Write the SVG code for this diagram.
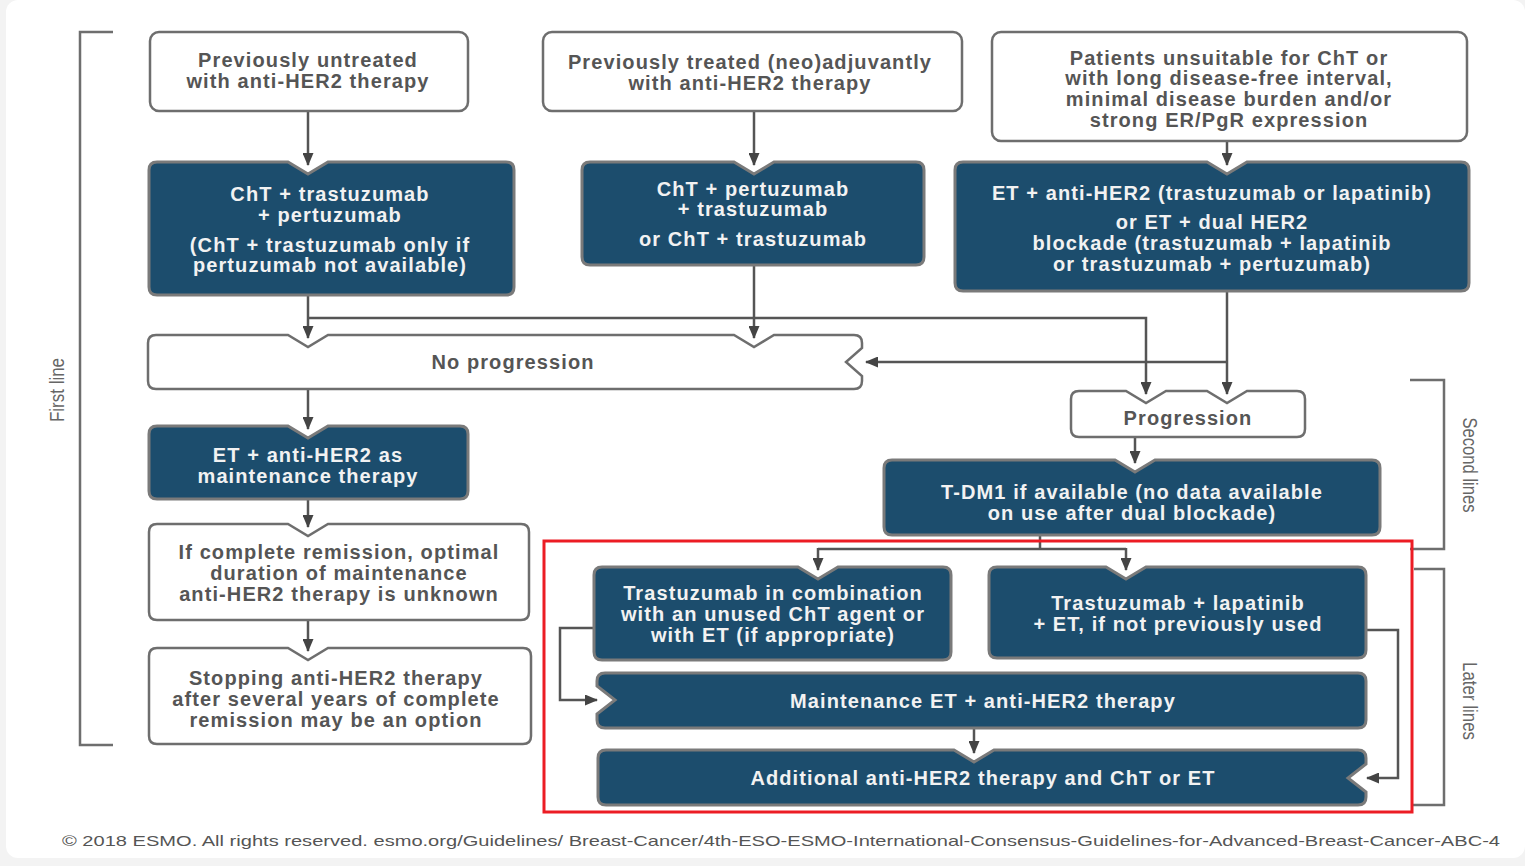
<svg xmlns="http://www.w3.org/2000/svg" width="1525" height="866" viewBox="0 0 1525 866">
<style>
.wb{fill:#ffffff;stroke:#6e6e6e;stroke-width:2.5}
.db{fill:#1c4d6d;stroke:#7a7a7a;stroke-width:3}
.tw{font-family:"Liberation Sans",Arial,sans-serif;font-size:20px;letter-spacing:1.1px;font-weight:bold;fill:#555555;text-anchor:middle}
.td{font-family:"Liberation Sans",Arial,sans-serif;font-size:20px;letter-spacing:1.1px;font-weight:bold;fill:#f2f2f2;text-anchor:middle}
.cn{fill:none;stroke:#555;stroke-width:2.5}
.br{fill:none;stroke:#6e6e6e;stroke-width:2.5}
.lb{font-family:"Liberation Sans",Arial,sans-serif;font-size:21px;fill:#666;text-anchor:middle}
</style>
<defs>
<marker id="ah" markerUnits="userSpaceOnUse" markerWidth="13" markerHeight="11" viewBox="0 0 13 11" refX="12" refY="5.5" orient="auto">
<path d="M0,0 L13,5.5 L0,11 Z" fill="#444"/>
</marker>
</defs>
<rect x="0" y="0" width="1525" height="866" fill="#f3f3f3"/>
<rect x="6" y="0" width="1519" height="858" rx="12" fill="#ffffff"/>

<g id="brackets">
<path class="br" d="M113,32 H80 V745 H113"/>
<path class="br" d="M1410,380 H1444 V549 H1410"/>
<path class="br" d="M1414,569 H1444 V805 H1412"/>
<text class="lb" transform="translate(64,390) rotate(-90)" textLength="64" lengthAdjust="spacingAndGlyphs">First line</text>
<text class="lb" transform="translate(1463,465) rotate(90)" textLength="95" lengthAdjust="spacingAndGlyphs">Second lines</text>
<text class="lb" transform="translate(1463,701) rotate(90)" textLength="78" lengthAdjust="spacingAndGlyphs">Later lines</text>
</g>

<g id="connectors">
<path class="cn" d="M308,111 V165" marker-end="url(#ah)"/>
<path class="cn" d="M754,111 V165" marker-end="url(#ah)"/>
<path class="cn" d="M1227,141 V165" marker-end="url(#ah)"/>
<path class="cn" d="M308,295 V338" marker-end="url(#ah)"/>
<path class="cn" d="M308,318 H1146 V394" marker-end="url(#ah)"/>
<path class="cn" d="M754,265 V338" marker-end="url(#ah)"/>
<path class="cn" d="M1227,291 V394" marker-end="url(#ah)"/>
<path class="cn" d="M1227,362 H866" marker-end="url(#ah)"/>
<path class="cn" d="M308,389 V429" marker-end="url(#ah)"/>
<path class="cn" d="M308,499 V527" marker-end="url(#ah)"/>
<path class="cn" d="M308,620 V651" marker-end="url(#ah)"/>
<path class="cn" d="M1135,437 V463" marker-end="url(#ah)"/>
<path class="cn" d="M1040,535 V549 M818,549 H1126"/>
<path class="cn" d="M818,548 V570" marker-end="url(#ah)"/>
<path class="cn" d="M1126,548 V570" marker-end="url(#ah)"/>
<path class="cn" d="M594,628 H560 V700 H597" marker-end="url(#ah)"/>
<path class="cn" d="M1366,630 H1398 V778 H1367" marker-end="url(#ah)"/>
<path class="cn" d="M974,728 V753" marker-end="url(#ah)"/>
</g>

<g id="n-untreated">
<rect class="wb" x="150" y="32" width="318" height="79" rx="9"/>
<text class="tw" x="308" y="67">Previously untreated</text>
<text class="tw" x="308" y="88">with anti-HER2 therapy</text>
</g>
<g id="n-treated">
<rect class="wb" x="543" y="32" width="419" height="79" rx="9"/>
<text class="tw" x="750" y="69">Previously treated (neo)adjuvantly</text>
<text class="tw" x="750" y="90">with anti-HER2 therapy</text>
</g>
<g id="n-unsuitable">
<rect class="wb" x="992" y="32" width="475" height="109" rx="9"/>
<text class="tw" x="1229" y="65">Patients unsuitable for ChT or</text>
<text class="tw" x="1229" y="85">with long disease-free interval,</text>
<text class="tw" x="1229" y="106">minimal disease burden and/or</text>
<text class="tw" x="1229" y="127">strong ER/PgR expression</text>
</g>
<g id="n-cht-tp">
<path class="db" d="M157,162 H288 L308,174 L328,162 H506 Q514,162 514,170 V287 Q514,295 506,295 H157 Q149,295 149,287 V170 Q149,162 157,162 Z"/>
<text class="td" x="330" y="201">ChT + trastuzumab</text>
<text class="td" x="330" y="222">+ pertuzumab</text>
<text class="td" x="330" y="252">(ChT + trastuzumab only if</text>
<text class="td" x="330" y="272">pertuzumab not available)</text>
</g>
<g id="n-cht-pt">
<path class="db" d="M590,162 H734 L754,174 L774,162 H916 Q924,162 924,170 V257 Q924,265 916,265 H590 Q582,265 582,257 V170 Q582,162 590,162 Z"/>
<text class="td" x="753" y="196">ChT + pertuzumab</text>
<text class="td" x="753" y="216">+ trastuzumab</text>
<text class="td" x="753" y="246">or ChT + trastuzumab</text>
</g>
<g id="n-et-her2">
<path class="db" d="M963,162 H1207 L1227,174 L1247,162 H1461 Q1469,162 1469,170 V283 Q1469,291 1461,291 H963 Q955,291 955,283 V170 Q955,162 963,162 Z"/>
<text class="td" x="1212" y="200">ET + anti-HER2 (trastuzumab or lapatinib)</text>
<text class="td" x="1212" y="229">or ET + dual HER2</text>
<text class="td" x="1212" y="250">blockade (trastuzumab + lapatinib</text>
<text class="td" x="1212" y="271">or trastuzumab + pertuzumab)</text>
</g>
<g id="n-noprog">
<path class="wb" d="M156,335 H288 L308,347 L328,335 H734 L754,347 L774,335 H854 Q862,335 862,343 V348 L846,362 L862,376 V381 Q862,389 854,389 H156 Q148,389 148,381 V343 Q148,335 156,335 Z"/>
<text class="tw" x="513" y="369">No progression</text>
</g>
<g id="n-prog">
<path class="wb" d="M1079,391 H1126 L1146,403 L1166,391 H1207 L1227,403 L1247,391 H1297 Q1305,391 1305,399 V429 Q1305,437 1297,437 H1079 Q1071,437 1071,429 V399 Q1071,391 1079,391 Z"/>
<text class="tw" x="1188" y="425">Progression</text>
</g>
<g id="n-maint1">
<path class="db" d="M157,426 H288 L308,438 L328,426 H460 Q468,426 468,434 V491 Q468,499 460,499 H157 Q149,499 149,491 V434 Q149,426 157,426 Z"/>
<text class="td" x="308" y="462">ET + anti-HER2 as</text>
<text class="td" x="308" y="483">maintenance therapy</text>
</g>
<g id="n-remission">
<path class="wb" d="M157,524 H288 L308,536 L328,524 H521 Q529,524 529,532 V612 Q529,620 521,620 H157 Q149,620 149,612 V532 Q149,524 157,524 Z"/>
<text class="tw" x="339" y="559">If complete remission, optimal</text>
<text class="tw" x="339" y="580">duration of maintenance</text>
<text class="tw" x="339" y="601">anti-HER2 therapy is unknown</text>
</g>
<g id="n-stopping">
<path class="wb" d="M157,648 H288 L308,660 L328,648 H523 Q531,648 531,656 V736 Q531,744 523,744 H157 Q149,744 149,736 V656 Q149,648 157,648 Z"/>
<text class="tw" x="336" y="685">Stopping anti-HER2 therapy</text>
<text class="tw" x="336" y="706">after several years of complete</text>
<text class="tw" x="336" y="727">remission may be an option</text>
</g>
<g id="n-tdm1">
<path class="db" d="M892,460 H1115 L1135,472 L1155,460 H1372 Q1380,460 1380,468 V527 Q1380,535 1372,535 H892 Q884,535 884,527 V468 Q884,460 892,460 Z"/>
<text class="td" x="1132" y="499">T-DM1 if available (no data available</text>
<text class="td" x="1132" y="520">on use after dual blockade)</text>
</g>
<rect id="highlight" x="544" y="541" width="868" height="271" fill="none" stroke="#ec1c24" stroke-width="3"/>
<g id="n-trast-cht">
<path class="db" d="M602,567 H798 L818,579 L838,567 H943 Q951,567 951,575 V652 Q951,660 943,660 H602 Q594,660 594,652 V575 Q594,567 602,567 Z"/>
<text class="td" x="773" y="600">Trastuzumab in combination</text>
<text class="td" x="773" y="621">with an unused ChT agent or</text>
<text class="td" x="773" y="642">with ET (if appropriate)</text>
</g>
<g id="n-trast-lap">
<path class="db" d="M997,567 H1106 L1126,579 L1146,567 H1358 Q1366,567 1366,575 V650 Q1366,658 1358,658 H997 Q989,658 989,650 V575 Q989,567 997,567 Z"/>
<text class="td" x="1178" y="610">Trastuzumab + lapatinib</text>
<text class="td" x="1178" y="631">+ ET, if not previously used</text>
</g>
<g id="n-maint2">
<path class="db" d="M605,673 H1358 Q1366,673 1366,681 V720 Q1366,728 1358,728 H605 Q597,728 597,720 V714 L615,700 L597,686 V681 Q597,673 605,673 Z"/>
<text class="td" x="983" y="708">Maintenance ET + anti-HER2 therapy</text>
</g>
<g id="n-additional">
<path class="db" d="M606,750 H954 L974,762 L994,750 H1358 Q1366,750 1366,758 V764 L1348,778 L1366,792 V797 Q1366,805 1358,805 H606 Q598,805 598,797 V758 Q598,750 606,750 Z"/>
<text class="td" x="983" y="785">Additional anti-HER2 therapy and ChT or ET</text>
</g>
<text x="62" y="846" font-family="'Liberation Sans',Arial,sans-serif" font-size="15" fill="#555" textLength="1438" lengthAdjust="spacingAndGlyphs">© 2018 ESMO. All rights reserved. esmo.org/Guidelines/ Breast-Cancer/4th-ESO-ESMO-International-Consensus-Guidelines-for-Advanced-Breast-Cancer-ABC-4</text>
</svg>
